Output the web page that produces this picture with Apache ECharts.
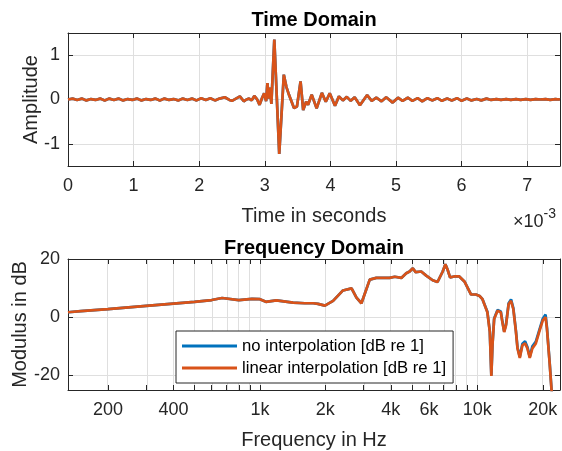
<!DOCTYPE html>
<html>
<head>
<meta charset="utf-8">
<script src="https://cdn.jsdelivr.net/npm/echarts@6/dist/echarts.min.js"></script>
<style>html,body{margin:0;padding:0;background:#fff}#c{width:562px;height:451px}</style>
</head>
<body>
<div id="c"></div>
<script>
// ---- Time domain (time in ms, amplitude) ----
var timeMs = [0.00,0.07,0.14,0.21,0.28,0.35,0.42,0.49,0.56,0.63,0.70,0.77,0.84,0.91,0.98,1.05,1.12,1.19,1.26,1.33,1.40,1.47,1.54,1.61,1.68,1.75,1.82,1.89,1.96,2.03,2.10,2.17,2.24,
  2.31,2.39,2.46,2.50,2.56,2.62,2.68,2.72,2.76,2.80,2.84,2.88,2.92,2.96,2.99,3.02,3.04,3.06,3.08,3.10,3.145,3.22,3.29,3.33,3.37,3.40,3.445,3.49,3.545,3.585,3.63,3.66,3.715,3.79,3.87,3.93,3.99,4.07,
  4.13,4.19,4.25,4.31,4.37,4.45,4.56,4.63,4.70,4.78,4.85,4.95,5.03,5.10,5.18,5.25,5.33,5.40,5.48,5.55,5.63,5.70,5.78,5.85,5.93,6.00,6.08,6.15,6.23,6.30,6.38,6.45,6.53,6.60,6.68,6.75,6.83,6.90,6.98,7.05,7.13,7.20,7.28,7.35,7.43,7.50];
var amplitude = [0.00,0.02,-0.01,0.02,-0.02,0.01,-0.01,0.02,-0.02,0.02,-0.01,0.02,-0.02,0.01,-0.01,0.02,-0.02,0.01,-0.01,0.02,-0.02,0.02,-0.01,0.01,-0.02,0.02,-0.01,0.02,-0.02,0.03,-0.01,0.03,-0.02,
  0.02,0.05,-0.01,-0.03,0.02,0.07,-0.04,0.00,0.02,-0.02,0.08,0.01,-0.12,0.04,0.14,-0.04,0.37,0.02,0.27,-0.10,1.35,-1.23,0.56,0.28,0.10,0.14,-0.19,-0.16,0.41,-0.24,-0.05,-0.12,0.11,-0.20,0.15,-0.05,0.14,-0.14,
  0.07,-0.02,0.06,-0.03,0.05,-0.13,0.10,-0.03,0.04,-0.04,0.05,-0.07,0.04,-0.03,0.04,-0.03,0.03,-0.04,0.03,-0.02,0.03,-0.03,0.02,-0.02,0.03,-0.03,0.02,-0.02,0.01,-0.02,0.02,-0.01,0.01,-0.01,0.01,-0.01,0.01,-0.01,0.01,-0.01,0.01,0.00,0.01,-0.01,0.01,0.00];

// ---- Frequency domain ----
var freqHz = [131,150,200,300,400,500,600,670,800,920,1000,1065,1190,1420,1610,1760,1850,1990,2170,2410,2640,2780,2930,3200,3430,3950,4170,4470,4710,4880,5050,5200,5520,5820,6230,6560,6930,7130,7300,7490,7830,8260,8720,9360,9850,10240,10560,11120,11410,11600,11740,11950,12380,12820,13040,13290,13550,13930,14290,14640,15050,15300,15680,16120,16580,16990,17420,17910,18580,19260,20000,20600,20900,21520,22040];
var dbNoInterp = [1.7,2.1,2.8,3.9,4.7,5.3,5.9,6.6,5.9,6.3,6.2,5.3,5.8,5.0,4.8,4.8,4.6,4.0,5.6,9.2,9.9,6.7,4.8,12.9,13.5,13.5,13.9,13.5,15.1,15.7,16.8,15.5,15.7,14.3,12.7,12.1,15.7,18.2,16.3,13.7,14.0,14.0,12.3,7.8,7.8,7.3,6.2,1.9,-4.8,-20.0,-9.4,-0.4,2.5,2.0,-1.5,-4.9,-2.5,4.8,6.1,3.1,-4.7,-10.4,-13.6,-9.1,-8.3,-10.2,-13.6,-10.0,-8.4,-4.5,-0.5,0.9,-3.5,-15.8,-27];
var dbLinInterp = [1.7,2.1,2.8,3.9,4.7,5.3,5.9,6.6,5.9,6.3,6.2,5.3,5.8,5.0,4.8,4.8,4.6,4.0,5.6,9.2,9.9,6.7,4.8,12.9,13.5,13.5,13.9,13.5,15.1,15.7,16.8,15.5,15.7,14.3,12.7,12.1,15.7,18.2,16.3,13.7,14.0,14.0,12.3,7.8,7.8,7.3,6.2,1.7,-5.0,-20.2,-9.6,-0.6,2.2,1.7,-1.7,-5.1,-2.8,4.5,5.6,2.8,-5.0,-10.7,-14.0,-9.6,-9.0,-10.7,-14.0,-10.7,-9.0,-5.0,-1.1,0.0,-3.9,-16.0,-27];

var timeTicks = [0,1,2,3,4,5,6,7];
var ampTicks = [-1,0,1];
var freqTickLabels = [200,400,1000,2000,4000,6000,10000,20000];
var freqMinorTicks = [200,300,400,500,600,700,800,900,1000,2000,3000,4000,5000,6000,7000,8000,9000,10000,20000];
var dbTicks = [-20,0,20];
var freqMin = 131, freqMax = 24000;

var FONT = "'Liberation Sans', Arial, Helvetica, sans-serif";
var AX = '#262626', GRID = '#dfdfdf';
var L10 = function(v){ return Math.log10(v); };

function pairs(xs, ys, fx){ return xs.map(function(x,i){ return [fx ? fx(x) : x, ys[i]]; }); }

var tickStyle = {show:true, inside:true, length:5, lineStyle:{color:AX, width:1}};
var lineStyle = {show:true, onZero:false, lineStyle:{color:AX, width:1}};
var labelStyle = {color:AX, fontSize:18, fontFamily:FONT};
var noSplit = {show:false};
var nameStyle = {fontSize:20, color:AX, fontFamily:FONT};

function gridLines(xVals, yVals){
  var d = [];
  xVals.forEach(function(v){ d.push({xAxis:v}); });
  yVals.forEach(function(v){ d.push({yAxis:v}); });
  return {silent:true, z:0, zlevel:0, symbol:['none','none'], label:{show:false}, animation:false,
          lineStyle:{color:GRID, width:1, type:'solid'}, emphasis:{disabled:true}, data:d};
}

var chart = echarts.init(document.getElementById('c'), null, {renderer:'canvas'});
chart.setOption({
  animation:false,
  backgroundColor:'#fff',
  grid:[
    {left:68, top:33, width:492, height:133},
    {left:68, top:259, width:492, height:134}
  ],
  xAxis:[
    {type:'value', gridIndex:0, min:0, max:7.5, position:'bottom',
     axisLine:lineStyle, axisTick:Object.assign({customValues:timeTicks}, tickStyle),
     axisLabel:Object.assign({customValues:timeTicks, margin:11}, labelStyle),
     splitLine:noSplit, nameMoveOverlap:false,
     name:'Time in seconds', nameLocation:'middle', nameGap:40, nameTextStyle:nameStyle},
    {type:'value', gridIndex:0, min:0, max:7.5, position:'top',
     axisLine:lineStyle, axisTick:Object.assign({customValues:timeTicks}, tickStyle),
     axisLabel:{show:false}, splitLine:noSplit},
    {type:'value', gridIndex:1, min:L10(freqMin), max:L10(freqMax), position:'bottom',
     axisLine:lineStyle, axisTick:Object.assign({customValues:freqMinorTicks.map(L10)}, tickStyle),
     axisLabel:Object.assign({customValues:freqTickLabels.map(L10), margin:11,
       formatter:function(v){ var f=Math.round(Math.pow(10,v)); return f>=1000 ? (f/1000)+'k' : String(f); }}, labelStyle),
     splitLine:noSplit, nameMoveOverlap:false,
     name:'Frequency in Hz', nameLocation:'middle', nameGap:40, nameTextStyle:nameStyle},
    {type:'value', gridIndex:1, min:L10(freqMin), max:L10(freqMax), position:'top',
     axisLine:lineStyle, axisTick:Object.assign({customValues:freqMinorTicks.map(L10)}, tickStyle),
     axisLabel:{show:false}, splitLine:noSplit}
  ],
  yAxis:[
    {type:'value', gridIndex:0, min:-1.5, max:1.5, position:'left',
     axisLine:lineStyle, axisTick:Object.assign({customValues:ampTicks}, tickStyle),
     axisLabel:Object.assign({customValues:ampTicks, margin:8}, labelStyle),
     splitLine:noSplit, nameMoveOverlap:false,
     name:'Amplitude', nameLocation:'middle', nameGap:27, nameTextStyle:nameStyle},
    {type:'value', gridIndex:0, min:-1.5, max:1.5, position:'right',
     axisLine:lineStyle, axisTick:Object.assign({customValues:ampTicks}, tickStyle),
     axisLabel:{show:false}, splitLine:noSplit},
    {type:'value', gridIndex:1, min:-25, max:20, position:'left',
     axisLine:lineStyle, axisTick:Object.assign({customValues:dbTicks}, tickStyle),
     axisLabel:Object.assign({customValues:dbTicks, margin:8}, labelStyle),
     splitLine:noSplit, nameMoveOverlap:false,
     name:'Modulus in dB', nameLocation:'middle', nameGap:38, nameTextStyle:nameStyle},
    {type:'value', gridIndex:1, min:-25, max:20, position:'right',
     axisLine:lineStyle, axisTick:Object.assign({customValues:dbTicks}, tickStyle),
     axisLabel:{show:false}, splitLine:noSplit}
  ],
  legend:{
    orient:'vertical', left:176, top:331, icon:'rect', itemWidth:55, itemHeight:3, itemGap:0, z:10,
    padding:[4,7,4,6], backgroundColor:'#fff', borderColor:AX, borderWidth:1, borderRadius:0,
    textStyle:{fontSize:16.7, color:'#000', fontFamily:FONT, lineHeight:22},
    data:['no interpolation [dB re 1]','linear interpolation [dB re 1]']
  },
  graphic:[
    {type:'text', x:314, y:20, style:{text:'Time Domain', align:'center', verticalAlign:'middle',
      font:"bold 20px 'Liberation Sans', Arial, sans-serif", fill:'#000'}},
    {type:'text', x:314, y:248, style:{text:'Frequency Domain', align:'center', verticalAlign:'middle',
      font:"bold 20px 'Liberation Sans', Arial, sans-serif", fill:'#000'}},
    {type:'text', left:513, top:207, style:{
      text:'{a|×10}{b|-3}', rich:{a:{fontSize:18, fontFamily:FONT, fill:AX, verticalAlign:'bottom'}, b:{fontSize:14, fontFamily:FONT, fill:AX, verticalAlign:'top', padding:[0,0,10,0]}}}}
  ],
  series:[
    {type:'line', name:'gridTime', xAxisIndex:0, yAxisIndex:0, data:[], z:0, silent:true,
     markLine:gridLines(timeTicks, ampTicks)},
    {type:'line', name:'gridFreq', xAxisIndex:2, yAxisIndex:2, data:[], z:0, silent:true,
     markLine:gridLines(freqMinorTicks.map(L10), dbTicks)},
    {type:'line', name:'time', xAxisIndex:0, yAxisIndex:0, data:pairs(timeMs, amplitude), showSymbol:false, symbol:'none',
     lineStyle:{color:'#0072BD', width:2.7}, itemStyle:{color:'#0072BD'}, z:2},
    {type:'line', name:'time2', xAxisIndex:0, yAxisIndex:0, data:pairs(timeMs, amplitude), showSymbol:false, symbol:'none',
     lineStyle:{color:'#D95319', width:2.7}, itemStyle:{color:'#D95319'}, z:3},
    {type:'line', name:'no interpolation [dB re 1]', xAxisIndex:2, yAxisIndex:2, data:pairs(freqHz, dbNoInterp, L10), showSymbol:false, symbol:'none',
     lineStyle:{color:'#0072BD', width:2.7}, itemStyle:{color:'#0072BD'}, z:2},
    {type:'line', name:'linear interpolation [dB re 1]', xAxisIndex:2, yAxisIndex:2, data:pairs(freqHz, dbLinInterp, L10), showSymbol:false, symbol:'none',
     lineStyle:{color:'#D95319', width:2.7}, itemStyle:{color:'#D95319'}, z:3}
  ]
});
</script>
</body>
</html>
